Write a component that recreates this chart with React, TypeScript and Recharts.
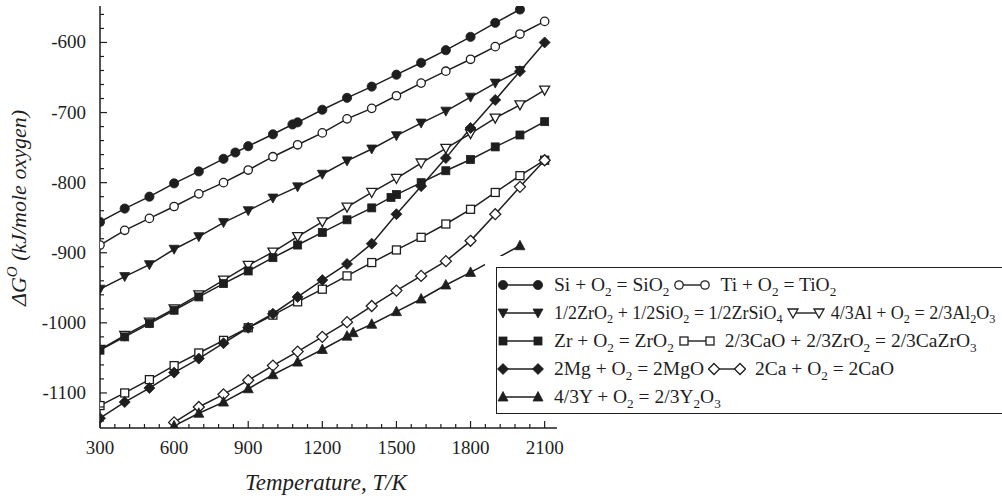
import React from 'react'
import { LineChart, Line, XAxis, YAxis } from 'recharts'

const INK = '#1e1e1e'
const SERIF = '"Liberation Serif", "Times New Roman", serif'

// temperatures (K) and standard free energies (kJ / mole O2)
const tempsFull = [300, 400, 500, 600, 700, 800, 900, 1000, 1100, 1200, 1300, 1400, 1500, 1600, 1700, 1800, 1900, 2000, 2100]
const tempsTo2000 = [300, 400, 500, 600, 700, 800, 900, 1000, 1100, 1200, 1300, 1400, 1500, 1600, 1700, 1800, 1900, 2000]

const siTemps = [300, 400, 500, 600, 700, 800, 848, 900, 1000, 1079, 1100, 1200, 1300, 1400, 1500, 1600, 1700, 1800, 1900, 2000]
const siValues = [-856, -837, -820, -801, -784, -766, -757, -748, -731, -717, -714, -696, -679, -663, -646, -629, -611, -592, -572, -553]

const tiValues = [-889, -868, -851, -834, -816, -800, -782, -763, -746, -729, -709, -694, -676, -658, -641, -624, -606, -588, -570]

const zrSiO4Values = [-952, -934, -917, -895, -877, -857, -840, -822, -806, -788, -769, -752, -733, -715, -698, -678, -658, -640]

const alValues = [-1038, -1018, -999, -980, -960, -939, -918, -899, -877, -856, -835, -814, -794, -772, -751, -730, -708, -689, -668]

const zrTemps = [300, 400, 500, 600, 700, 800, 900, 1000, 1100, 1200, 1300, 1400, 1478, 1500, 1600, 1700, 1800, 1900, 2000, 2100]
const zrValues = [-1039, -1020, -1001, -982, -963, -944, -926, -907, -889, -871, -853, -836, -821, -817, -800, -783, -767, -749, -732, -713]

const caZrO3Values = [-1118, -1100, -1081, -1061, -1043, -1025, -1007, -989, -970, -952, -933, -914, -896, -878, -859, -838, -814, -790, -768]

const mgValues = [-1136, -1113, -1093, -1071, -1051, -1029, -1007, -987, -963, -939, -916, -887, -845, -805, -765, -722, -682, -641, -600]

const caTemps = [600, 700, 800, 900, 1000, 1100, 1200, 1300, 1400, 1500, 1600, 1700, 1800, 1900, 2000, 2100]
const caValues = [-1142, -1120, -1102, -1082, -1061, -1041, -1020, -999, -976, -954, -933, -912, -883, -845, -806, -768]

const yTemps = [600, 700, 800, 900, 1000, 1100, 1200, 1300, 1325, 1400, 1500, 1600, 1700, 1800, 2000]
const yValues = [-1147, -1129, -1113, -1094, -1074, -1056, -1038, -1019, -1014, -1002, -984, -966, -946, -928, -890]

// axis ticks: labelled every 300 K / 100 kJ, small marks in between
const xTicks = Array.from({ length: 31 }, (_, i) => 300 + i * 60)
const yTicks = Array.from({ length: 30 }, (_, i) => -1140 + i * 20)

// legend text, odd pieces are subscripts
const siLabel = ['Si + O', '2', ' = SiO', '2']
const tiLabel = ['Ti + O', '2', ' = TiO', '2']
const zrSiO4Label = ['1/2ZrO', '2', ' + 1/2SiO', '2', ' = 1/2ZrSiO', '4']
const alLabel = ['4/3Al + O', '2', ' = 2/3Al', '2', 'O', '3']
const zrLabel = ['Zr + O', '2', ' = ZrO', '2']
const caZrO3Label = ['2/3CaO + 2/3ZrO', '2', ' = 2/3CaZrO', '3']
const mgLabel = ['2Mg + O', '2', ' = 2MgO']
const caLabel = ['2Ca + O', '2', ' = 2CaO']
const yLabel = ['4/3Y + O', '2', ' = 2/3Y', '2', 'O', '3']

type Kind =
  | 'circle' | 'circleOpen' | 'triDown' | 'triDownOpen'
  | 'square' | 'squareOpen' | 'diamond' | 'diamondOpen' | 'triUp'

const toPoints = (temps: number[], values: number[]) =>
  temps.map((t, i) => ({ t, g: values[i] }))

// drawing order: open triangles go under the filled squares they overlap
const series: { id: string; kind: Kind; data: { t: number; g: number }[] }[] = [
  { id: 'al', kind: 'triDownOpen', data: toPoints(tempsFull, alValues) },
  { id: 'zr', kind: 'square', data: toPoints(zrTemps, zrValues) },
  { id: 'cazro3', kind: 'squareOpen', data: toPoints(tempsFull, caZrO3Values) },
  { id: 'mg', kind: 'diamond', data: toPoints(tempsFull, mgValues) },
  { id: 'ca', kind: 'diamondOpen', data: toPoints(caTemps, caValues) },
  { id: 'y', kind: 'triUp', data: toPoints(yTemps, yValues) },
  { id: 'zrsio4', kind: 'triDown', data: toPoints(tempsTo2000, zrSiO4Values) },
  { id: 'ti', kind: 'circleOpen', data: toPoints(tempsFull, tiValues) },
  { id: 'si', kind: 'circle', data: toPoints(siTemps, siValues) },
]

function Marker({ kind, cx, cy }: { kind: Kind; cx: number; cy: number }) {
  const open = { fill: '#fff', stroke: INK, strokeWidth: 1.3 }
  const solid = { fill: INK, stroke: INK, strokeWidth: 0.8 }
  switch (kind) {
    case 'circle':
      return <circle cx={cx} cy={cy} r={4.6} {...solid} />
    case 'circleOpen':
      return <circle cx={cx} cy={cy} r={4.2} {...open} />
    case 'triDown':
      return <polygon points={`${cx - 5},${cy - 4} ${cx + 5},${cy - 4} ${cx},${cy + 5}`} {...solid} />
    case 'triDownOpen':
      return <polygon points={`${cx - 5},${cy - 4} ${cx + 5},${cy - 4} ${cx},${cy + 5}`} {...open} />
    case 'square':
      return <rect x={cx - 4} y={cy - 4} width={8} height={8} {...solid} />
    case 'squareOpen':
      return <rect x={cx - 4} y={cy - 4} width={8} height={8} {...open} />
    case 'diamond':
      return <polygon points={`${cx},${cy - 5.5} ${cx + 5.5},${cy} ${cx},${cy + 5.5} ${cx - 5.5},${cy}`} {...solid} />
    case 'diamondOpen':
      return <polygon points={`${cx},${cy - 5.5} ${cx + 5.5},${cy} ${cx},${cy + 5.5} ${cx - 5.5},${cy}`} {...open} />
    case 'triUp':
      return <polygon points={`${cx},${cy - 5.5} ${cx + 5},${cy + 4} ${cx - 5},${cy + 4}`} {...solid} />
  }
}

const XTick = (props: any) => {
  const { x, y, payload } = props
  const major = payload.value % 300 === 0
  return (
    <g>
      <line x1={x} y1={y} x2={x} y2={y - (major ? 7 : 4)} stroke={INK} strokeWidth={1.2} />
      {major && (
        <text x={x} y={y + 26} textAnchor="middle" fontFamily={SERIF} fontSize={19} fill={INK}>
          {payload.value}
        </text>
      )}
    </g>
  )
}

const YTick = (props: any) => {
  const { x, y, payload } = props
  const major = payload.value % 100 === 0
  return (
    <g>
      <line x1={x} y1={y} x2={x + (major ? 7 : 4)} y2={y} stroke={INK} strokeWidth={1.2} />
      {major && (
        <text x={x - 14} y={y + 6} textAnchor="end" fontFamily={SERIF} fontSize={19} fill={INK}>
          {payload.value}
        </text>
      )}
    </g>
  )
}

const YTitle = () => (
  <text
    x={26}
    y={208}
    transform="rotate(-90 26 208)"
    textAnchor="middle"
    fontFamily={SERIF}
    fontStyle="italic"
    fontSize={22}
    fill={INK}
  >
    ΔG
    <tspan dy={-9} fontSize={15}>O</tspan>
    <tspan dy={9}> (kJ/mole oxygen)</tspan>
  </text>
)

const XTitle = () => (
  <text x={326} y={490} textAnchor="middle" fontFamily={SERIF} fontStyle="italic" fontSize={23} fill={INK}>
    Temperature, T/K
  </text>
)

function Formula({ parts }: { parts: string[] }) {
  return (
    <span style={{ whiteSpace: 'pre' }}>
      {parts.map((p, i) =>
        i % 2 === 1 ? (
          <span key={i} style={{ fontSize: '0.68em', position: 'relative', top: '0.35em' }}>{p}</span>
        ) : (
          <span key={i}>{p}</span>
        )
      )}
    </span>
  )
}

function LegendSymbol({ kind, width }: { kind: Kind; width: number }) {
  return (
    <svg width={width} height={14} style={{ flex: 'none' }}>
      <line x1={6} y1={7} x2={width - 6} y2={7} stroke={INK} strokeWidth={1.4} />
      <Marker kind={kind} cx={6} cy={7} />
      <Marker kind={kind} cx={width - 6} cy={7} />
    </svg>
  )
}

const legendRows: { kind: Kind; parts: string[] }[][] = [
  [{ kind: 'circle', parts: siLabel }, { kind: 'circleOpen', parts: tiLabel }],
  [{ kind: 'triDown', parts: zrSiO4Label }, { kind: 'triDownOpen', parts: alLabel }],
  [{ kind: 'square', parts: zrLabel }, { kind: 'squareOpen', parts: caZrO3Label }],
  [{ kind: 'diamond', parts: mgLabel }, { kind: 'diamondOpen', parts: caLabel }],
  [{ kind: 'triUp', parts: yLabel }],
]

// the long second row is set a little smaller so it still fits the frame
const rowFontSize = [19.5, 18, 19.5, 19.5, 19.5]

function ChartLegend() {
  return (
    <div
      style={{
        position: 'absolute',
        left: 496,
        top: 267,
        width: 560,
        height: 145,
        border: `1.3px solid ${INK}`,
        background: '#fff',
        boxShadow: '-11px -11px 0 0 #fff',
        fontFamily: SERIF,
        color: INK,
      }}
    >
      {legendRows.map((row, r) => (
        <div
          key={r}
          style={{
            position: 'absolute',
            left: 0,
            top: 3 + r * 28,
            height: 28,
            display: 'flex',
            alignItems: 'center',
            whiteSpace: 'nowrap',
            fontSize: rowFontSize[r],
          }}
        >
          {row.map((item, j) => (
            <React.Fragment key={j}>
              <span style={{ marginLeft: j === 0 ? 0 : 4, marginRight: j === 0 ? 10 : r === 1 ? 6 : 9, display: 'flex' }}>
                <LegendSymbol kind={item.kind} width={j === 0 ? 47 : 38} />
              </span>
              <Formula parts={item.parts} />
            </React.Fragment>
          ))}
        </div>
      ))}
    </div>
  )
}

export default function App() {
  return (
    <div style={{ position: 'relative', width: 1002, height: 500, overflow: 'hidden', background: '#fff' }}>
      <style>{'body{margin:0}'}</style>
      <LineChart width={1002} height={500} margin={{ top: 6, right: 445, bottom: 42, left: 40 }}>
        <XAxis
          dataKey="t"
          type="number"
          domain={[300, 2150]}
          ticks={xTicks}
          interval={0}
          tickSize={0}
          tickMargin={0}
          tick={<XTick />}
          axisLine={{ stroke: INK, strokeWidth: 1.5 }}
          tickLine={false}
          height={30}
          allowDataOverflow
          label={<XTitle />}
        />
        <YAxis
          type="number"
          domain={[-1150, -548]}
          ticks={yTicks}
          interval={0}
          tickSize={0}
          tickMargin={0}
          tick={<YTick />}
          axisLine={{ stroke: INK, strokeWidth: 1.5 }}
          tickLine={false}
          width={60}
          allowDataOverflow
          label={<YTitle />}
        />
        {series.map((s) => (
          <Line
            key={s.id}
            data={s.data}
            dataKey="g"
            type="linear"
            stroke={INK}
            strokeWidth={1.5}
            isAnimationActive={false}
            dot={(p: any) => <Marker key={`${s.id}-${p.index}`} kind={s.kind} cx={p.cx} cy={p.cy} />}
            activeDot={false}
          />
        ))}
      </LineChart>
      <ChartLegend />
    </div>
  )
}
